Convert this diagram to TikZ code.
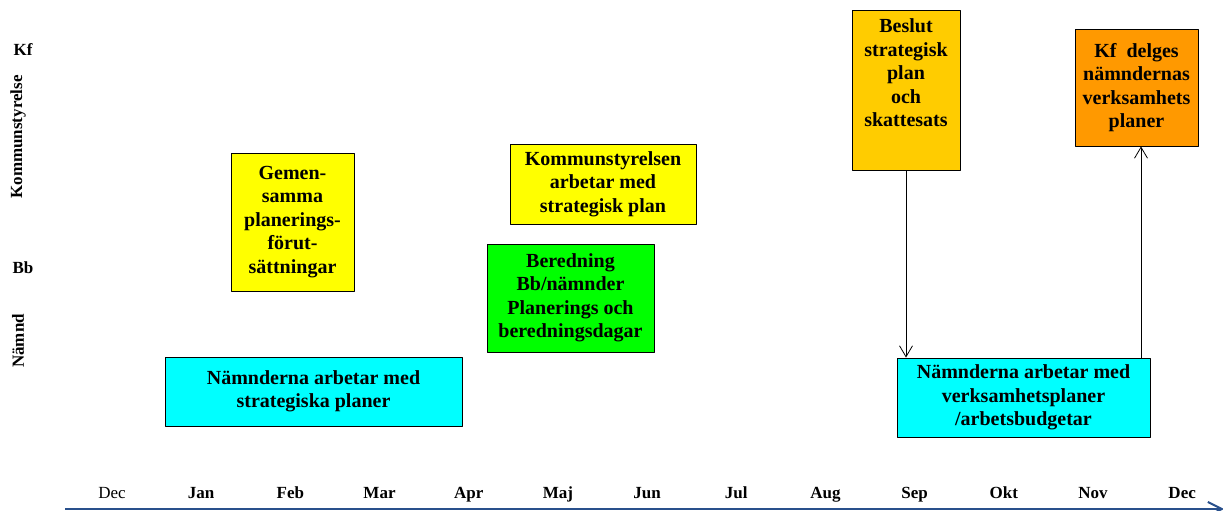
\documentclass[tikz,border=0pt]{standalone}
\usepackage{fontspec}
\setmainfont{Liberation Serif}
\usetikzlibrary{arrows.meta}
\definecolor{planyellow}{HTML}{FFFF00}
\definecolor{plangreen}{HTML}{00FF00}
\definecolor{plancyan}{HTML}{00FFFF}
\definecolor{plangold}{HTML}{FFCC00}
\definecolor{planorange}{HTML}{FF9900}
\definecolor{axisblue}{RGB}{41,80,140}
\begin{document}
\begin{tikzpicture}[x=1pt,y=-1pt,line join=round,
  plan/.style={draw,line width=0.9pt,align=center,inner sep=0pt,
    font=\fontsize{20}{23.5}\selectfont\bfseries},
  level/.style={font=\fontsize{17}{20}\selectfont\bfseries},
  month/.style={anchor=base,font=\fontsize{17}{20}\selectfont},
  conn/.style={line width=0.8pt,-{Straight Barb[length=11pt,width=13pt]}}]
  \useasboundingbox (0,0) rectangle (1223,511);
  % levels
  \node[level] (kf) at (23,50) {Kf};
  \node[level,rotate=90] (ks) at (18,137) {Kommunstyrelse};
  \node[level] (bb) at (23,268) {Bb};
  \node[level,rotate=90] (namnd) at (18,341) {Nämnd};
  % activities
  \node[plan,fill=planyellow,minimum width=123pt,minimum height=138pt]
    (gemensam) at (292.5,222) {Gemen-\\samma\\planerings-\\förut-\\sättningar};
  \node[plan,fill=planyellow,minimum width=186pt,minimum height=80pt]
    (ksarbete) at (603,184) {Kommunstyrelsen\\arbetar med\\strategisk plan};
  \node[plan,fill=plangreen,minimum width=167pt,minimum height=108pt]
    (beredning) at (570.5,298) {Beredning\\Bb/nämnder\\Planerings och\\beredningsdagar};
  \node[plan,fill=plancyan,minimum width=297pt,minimum height=69pt]
    (strategi) at (313.5,391.5) {Nämnderna arbetar med\\strategiska planer};
  \node[plan,fill=plangold,minimum width=108pt,minimum height=160pt]
    (beslut) at (906,90) {};
  \node[plan,draw=none,anchor=north] (beslutText) at ([yshift=-9pt]beslut.north)
    {Beslut\\strategisk\\plan\\och\\skattesats};
  \node[plan,fill=planorange,minimum width=123pt,minimum height=117pt]
    (kfdelges) at (1136.5,87.5) {Kf\ \ delges\\nämndernas\\verksamhets\\planer};
  \node[plan,fill=plancyan,minimum width=253pt,minimum height=79pt]
    (verks) at (1023.5,397.5) {Nämnderna arbetar med\\verksamhetsplaner\\/arbetsbudgetar};
  \draw[conn] (beslut.south) -- (beslut.south |- verks.north);
  \draw[conn] ([xshift=4.5pt]kfdelges.south |- verks.north) -- ([xshift=4.5pt]kfdelges.south);
  % time axis
  \node[month] (m0) at (112,498) {Dec};
  \foreach \m [count=\i] in {Jan,Feb,Mar,Apr,Maj,Jun,Jul,Aug,Sep,Okt,Nov,Dec}
    \node[month,font=\fontsize{17}{20}\selectfont\bfseries] (m\i) at (112+89.18*\i,498) {\m};
  \coordinate (axisStart) at (65,509);
  \coordinate (axisEnd) at (1224,509);
  \draw[axisblue,line width=2pt,-{Straight Barb[length=14pt,width=14pt]}]
    (axisStart) -- (axisEnd);
\end{tikzpicture}
\end{document}
